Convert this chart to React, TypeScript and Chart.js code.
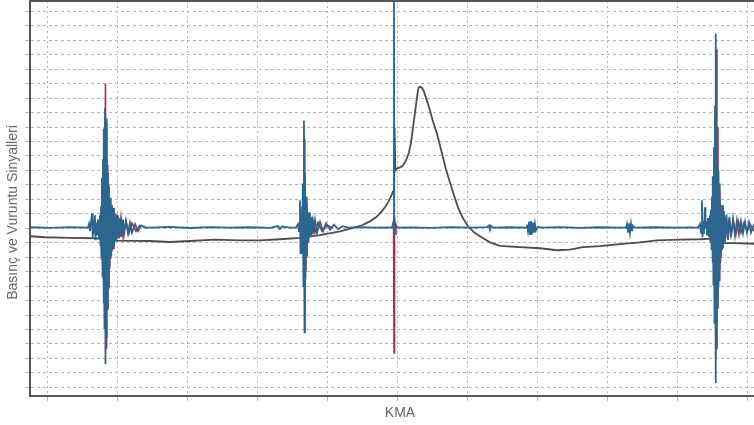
import React, { useEffect, useRef } from "react";
import { Chart, registerables } from "chart.js";

Chart.register(...registerables);

// ---- axis setup (crank angle in degrees, signal in arbitrary units) ----
const xTickValues = [0, 10, 20, 30, 40, 50, 60, 70, 80, 90, 100];
const yTickValues = [-11, -10, -9, -8, -7, -6, -5, -4, -3, -2, -1, 0, 1, 2, 3, 4, 5, 6, 7, 8, 9, 10, 11, 12, 13, 14, 15];
const X_MIN = -2.57;
const X_MAX = 100.86;
const Y_MIN = -11.6;
const Y_MAX = 15.72;

const xTitle = "KMA";
const yTitle = "Basınç ve Vuruntu Sinyalleri";

// ---- pressure signal ----
const pressureX = [
  -2.57, -0.43, 3.14, 6.71, 10.0, 14.57, 17.43, 20.29, 23.86, 27.43, 30.29, 33.14, 36.0, 38.86, 41.71,
  43.57, 44.86, 46.0, 46.86, 47.57, 48.14, 48.57, 49.0, 49.29, 49.43, 49.51, 49.63, 49.86, 50.29, 50.71,
  51.14, 51.57, 51.86, 52.14, 52.43, 52.71, 52.93, 53.14, 53.43, 53.71, 54.14, 54.57, 55.0, 55.57, 56.0,
  56.43, 56.86, 57.43, 58.0, 58.57, 59.29, 60.0, 60.86, 61.71, 63.14, 64.57, 67.43, 70.29, 72.71, 74.57,
  76.43, 78.86, 81.71, 84.57, 87.0, 90.29, 93.14, 94.86, 95.57, 97.86, 100.86,
];
const pressureY = [
  -0.55, -0.62, -0.66, -0.69, -0.86, -0.88, -0.95, -0.88, -0.79, -0.83, -0.83, -0.76, -0.66, -0.48, -0.21,
  0.03, 0.21, 0.48, 0.76, 1.1, 1.45, 1.79, 2.21, 2.55, 2.83, 6.97, 4.0, 4.14, 4.21, 4.34,
  4.69, 5.24, 5.93, 6.97, 8.0, 9.03, 9.72, 9.79, 9.72, 9.45, 8.83, 8.14, 7.38, 6.55, 5.72,
  4.9, 4.07, 3.17, 2.28, 1.45, 0.69, 0.14, -0.28, -0.55, -0.97, -1.21, -1.31, -1.38, -1.52, -1.48,
  -1.31, -1.24, -1.1, -0.97, -0.83, -0.79, -0.76, -0.72, -1.03, -1.03, -1.07,
];

// ---- knock signal (blue channel) ----
const knockBlueX = [
  -2.57, 0.29, 3.14, 5.71,
  5.86, 6.0, 6.14, 6.29, 6.36, 6.43, 6.57, 6.71, 6.79, 6.86, 7.0, 7.14, 7.29, 7.43, 7.5, 7.57, 7.64, 7.71,
  7.79, 7.86, 7.93, 8.0, 8.07, 8.14, 8.21, 8.29, 8.36, 8.43, 8.5, 8.57, 8.64, 8.71, 8.79, 8.86, 8.93, 9.0,
  9.14, 9.29, 9.43, 9.57, 9.71, 9.86, 10.0, 10.29, 10.43, 10.71, 10.86, 11.14, 11.43, 11.71, 12.0, 12.43,
  12.86, 13.29, 13.86,
  14.57, 17.43, 20.29, 23.14, 26.0, 28.86, 31.71, 32.86, 33.14, 33.43, 34.57,
  35.43, 35.71, 35.86, 36.0, 36.07, 36.14, 36.21, 36.29, 36.36, 36.43, 36.5, 36.57, 36.64, 36.71, 36.79,
  36.86, 36.93, 37.0, 37.14, 37.29, 37.43, 37.71, 37.86, 38.14, 38.43, 38.86, 39.29, 39.71, 40.29, 40.86,
  41.43, 42.14, 42.86,
  44.57, 46.71, 48.57, 49.14,
  49.37, 49.43, 49.47, 49.57, 49.71,
  52.0, 54.57, 57.43, 60.29, 62.71, 63.0, 63.14, 63.29, 63.57, 66.0, 68.29,
  68.43, 68.57, 68.71, 68.86, 69.0, 69.14, 69.29, 69.43, 69.57, 69.71, 70.0, 70.29,
  73.14, 76.0, 78.86, 81.71, 82.57,
  82.71, 82.86, 83.0, 83.14, 83.29, 83.43, 83.57, 83.86,
  86.71, 89.57, 91.71, 92.86,
  93.14, 93.29, 93.43, 93.5, 93.64, 93.71, 93.86, 93.93, 94.07, 94.14, 94.29, 94.43, 94.57, 94.64, 94.71,
  94.79, 94.86, 94.93, 95.0, 95.07, 95.14, 95.21, 95.29, 95.36, 95.43, 95.5, 95.57, 95.64, 95.71, 95.79,
  95.86, 95.93, 96.0, 96.14, 96.29, 96.43, 96.57, 96.71, 96.93, 97.14, 97.36, 97.57, 97.86, 98.14, 98.43,
  98.71, 99.0, 99.29, 99.57, 99.86, 100.14, 100.43, 100.86,
];
const knockBlueY = [
  0.07, 0.03, 0.08, 0.05,
  0.3, -0.2, 0.4, 1.03, -0.62, 0.7, -0.4, 0.9, -0.83, 0.4, -0.5, 0.6, -0.7, 0.9, -1.2, 1.5, -2.1, 3.5,
  -3.4, 4.8, -5.2, 6.9, -6.9, 8.3, -9.4, 7.6, -7.6, 5.5, -5.5, 3.8, -4.1, 2.8, -2.8, 2.1, -2.1, 1.7,
  -1.6, 1.4, -1.2, 1.0, -0.9, 0.9, -0.7, 0.7, -0.6, 0.6, -0.45, 0.5, -0.35, 0.4, -0.3, 0.3,
  -0.2, 0.2, 0.05,
  0.05, 0.1, 0.02, 0.08, 0.04, 0.07, 0.03, 0.15, -0.05, 0.12, 0.05,
  0.05, 0.3, -0.2, 1.93, -1.72, 0.8, -0.9, 1.5, -1.8, 3.1, -4.0, 7.45, -7.2, 3.8, -3.5,
  2.2, -2.0, 1.5, -1.0, 1.1, -0.6, 0.8, -0.4, 0.6, -0.3, 0.45, -0.2, 0.35, -0.1, 0.25,
  -0.05, 0.15, 0.05,
  0.08, 0.04, 0.06, 0.05,
  0.2, 17, -0.3, 0.2, 0.05,
  0.06, 0.03, 0.08, 0.05, 0.08, 0.2, -0.1, 0.18, 0.05, 0.07, 0.05,
  0.25, -0.2, 0.45, -0.4, 0.5, -0.4, 0.4, -0.3, 0.3, -0.15, 0.1, 0.05,
  0.08, 0.03, 0.07, 0.05, 0.05,
  0.3, -0.25, 0.35, -0.3, 0.3, -0.2, 0.15, 0.05,
  0.07, 0.04, 0.06, 0.05,
  0.3, -0.3, 1.93, -0.62, 0.5, -0.4, 1.45, 0.0, 0.5, -0.5, 0.7, -0.6, 0.9, -0.9, 1.3,
  -1.5, 2.2, -2.4, 3.6, -3.9, 5.6, -6.6, 8.5, -10.7, 13.45, -8.3, 6.2, -5.5, 4.3, -4.1,
  3.1, -2.9, 2.2, -2.0, 1.6, -1.4, 1.2, -1.0, 0.95, -0.8, 0.8, -0.6, 0.65, -0.5, 0.55,
  -0.4, 0.5, -0.35, 0.45, -0.3, 0.4, -0.3, 0.3,
];

// ---- knock signal (red channel), null breaks the trace between events ----
const knockRedX = [
  7.14, 7.57, 7.67, 7.76, 7.83, 7.9, 7.97, 8.04, 8.11, 8.21, 8.29, 8.37, 8.46, 8.54, 8.63, 8.71, 8.81,
  8.93, 9.04, 9.17, 9.29, 9.43, 9.64, 9.86, 10.14, 10.43, 10.71, 11.14, 11.57, 12.0, 12.57, 13.14, 14.0,
  20.0,
  36.0, 36.33, 36.4, 36.47, 36.54, 36.61, 36.69, 36.76, 36.83, 36.91, 37.0, 37.09, 37.21, 37.43, 37.64,
  37.86, 38.14, 38.57, 39.14, 39.86, 40.71,
  45.0,
  49.14, 49.37, 49.44, 49.5, 49.6, 49.71, 49.86,
  70.0,
  94.57, 94.76, 94.83, 94.9, 94.97, 95.04, 95.11, 95.19, 95.26, 95.33, 95.4, 95.49, 95.56, 95.64, 95.71,
  95.8, 95.89, 95.97, 96.07, 96.19, 96.31, 96.46, 96.64, 96.86, 97.07, 97.29, 97.57, 97.93, 98.29, 98.64,
  99.0, 99.43, 99.86, 100.29, 100.86,
];
const knockRedY = [
  0.05, 1.1, -1.8, 2.9, -2.9, 4.4, -4.7, 6.8, -6.4, 10.0, -8.3, 7.2, -5.6, 4.4, -3.9, 3.0, -2.7,
  2.0, -1.9, 1.6, -1.4, 1.2, -0.9, 0.95, -0.7, 0.75, -0.55, 0.5, -0.35, 0.35, -0.2, 0.2, 0.05,
  null,
  0.05, 1.1, -1.4, 2.8, -3.8, 6.2, -6.5, 2.1, -3.0, 1.8, -1.9, 1.1, -1.0, 0.75, -0.5,
  0.55, -0.3, 0.4, -0.2, 0.2, 0.05,
  null,
  0.05, 0.5, -8.62, 0.8, -0.4, 0.25, 0.05,
  null,
  0.05, 0.9, -1.2, 1.8, -2.3, 3.0, -3.7, 4.8, -5.8, 7.8, -9.0, 12.4, -6.5, 7.0, -4.8,
  4.0, -3.6, 2.6, -2.4, 1.6, -1.5, 1.1, -0.9, 0.8, -0.7, 0.65, -0.5, 0.5, -0.4, 0.45,
  -0.3, 0.4, -0.25, 0.3, -0.2,
];

const COLOR_PRESSURE = "#4d4d4d";
const COLOR_BLUE = "#2b6690";
const COLOR_RED = "#b02a45";
const COLOR_GRID = "#b5b5b5";
const COLOR_FRAME = "#555555";
const COLOR_TEXT = "#666666";
const FONT = '14px "Liberation Sans", Arial, sans-serif';

const zip = (xs: number[], ys: (number | null)[]) => xs.map((x, i) => ({ x, y: ys[i] }));

const framePlugin = {
  id: "frameAndTitles",
  afterDraw(chart: any) {
    const { ctx, chartArea } = chart;
    ctx.save();
    ctx.strokeStyle = COLOR_FRAME;
    ctx.lineWidth = 2;
    ctx.beginPath();
    ctx.moveTo(chartArea.left - 1, chartArea.top);
    ctx.lineTo(chartArea.right, chartArea.top);
    ctx.stroke();

    ctx.fillStyle = COLOR_TEXT;
    ctx.font = FONT;
    ctx.textAlign = "center";
    ctx.textBaseline = "alphabetic";
    ctx.fillText(xTitle, (chartArea.left + chartArea.right) / 2 + 8, chartArea.bottom + 21);

    ctx.translate(chartArea.left - 13.5, (chartArea.top + chartArea.bottom) / 2 + 14);
    ctx.rotate(-Math.PI / 2);
    ctx.fillText(yTitle, 0, 0);
    ctx.restore();
  },
};

export default function App() {
  const canvasRef = useRef<HTMLCanvasElement | null>(null);

  useEffect(() => {
    if (!canvasRef.current) return;
    const chart = new Chart(canvasRef.current, {
      type: "line",
      data: {
        datasets: [
          {
            label: "Vuruntu (mavi)",
            data: zip(knockBlueX, knockBlueY),
            borderColor: COLOR_BLUE,
            borderWidth: 1.8,
            pointRadius: 0,
            tension: 0,
            order: 0,
          },
          {
            label: "Vuruntu (kırmızı)",
            data: zip(knockRedX, knockRedY),
            borderColor: COLOR_RED,
            borderWidth: 1.6,
            pointRadius: 0,
            tension: 0,
            spanGaps: false,
            order: 1,
          },
          {
            label: "Basınç",
            data: zip(pressureX, pressureY),
            borderColor: COLOR_PRESSURE,
            borderWidth: 1.8,
            pointRadius: 0,
            tension: 0,
            order: 2,
          },
        ],
      },
      options: {
        animation: false,
        responsive: true,
        maintainAspectRatio: false,
        layout: { padding: { top: 1, left: 0, right: 0, bottom: 0 } },
        plugins: {
          legend: { display: false },
          tooltip: { enabled: false },
          title: { display: false },
        },
        scales: {
          x: {
            type: "linear",
            min: X_MIN,
            max: X_MAX,
            afterBuildTicks: (scale: any) => {
              scale.ticks = xTickValues.map((v) => ({ value: v }));
            },
            afterFit: (scale: any) => {
              scale.height = 29;
            },
            ticks: { display: false },
            grid: { color: COLOR_GRID, lineWidth: 1, tickLength: 5, tickColor: COLOR_GRID, drawTicks: true },
            border: { display: true, color: COLOR_FRAME, width: 2, dash: [2, 3] },
          },
          y: {
            type: "linear",
            min: Y_MIN,
            max: Y_MAX,
            afterBuildTicks: (scale: any) => {
              scale.ticks = yTickValues.map((v) => ({ value: v }));
            },
            afterFit: (scale: any) => {
              scale.width = 30;
            },
            ticks: { display: false },
            grid: { color: COLOR_GRID, lineWidth: 1, tickLength: 5, tickColor: COLOR_GRID, drawTicks: true },
            border: { display: true, color: COLOR_FRAME, width: 2, dash: [3, 3] },
          },
        },
      },
      plugins: [framePlugin],
    });
    return () => chart.destroy();
  }, []);

  return (
    <div style={{ position: "fixed", left: 0, top: 0, width: 754, height: 425, background: "#ffffff" }}>
      <canvas ref={canvasRef} />
    </div>
  );
}
